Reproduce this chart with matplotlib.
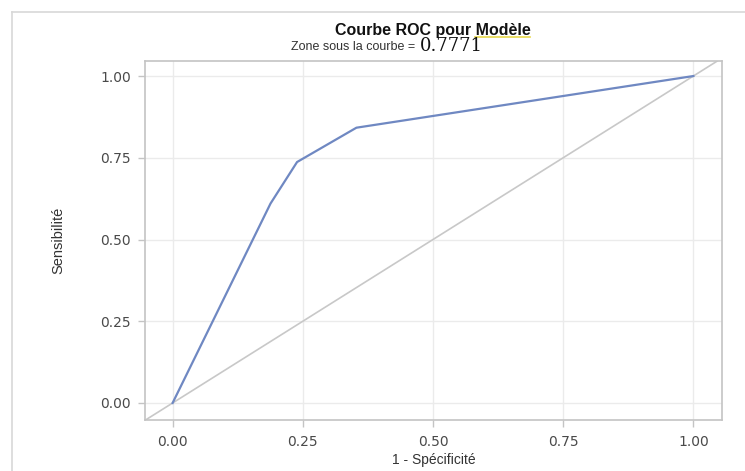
import matplotlib
matplotlib.use("Agg")
import matplotlib.pyplot as plt
from matplotlib.lines import Line2D

plt.rcParams["font.family"] = ["Liberation Sans", "DejaVu Sans"]

# Data
fpr = [0.0, 0.188, 0.239, 0.353, 1.0]
tpr = [0.0, 0.610, 0.737, 0.842, 1.0]
ticks = [0.0, 0.25, 0.50, 0.75, 1.00]
tick_labels = ["0.00", "0.25", "0.50", "0.75", "1.00"]
title = "Courbe ROC pour Modèle"
subtitle = "Zone sous la courbe"
auc_text = "0.7771"

fig = plt.figure(figsize=(7.45, 4.71), dpi=100)
ax = fig.add_axes([145/745, 1-420/471, (722-145)/745, (420-61)/471])

ax.set_xlim(-0.053, 1.055)
ax.set_ylim(-0.052, 1.046)
ax.set_xticks(ticks)
ax.set_xticklabels(tick_labels, family="DejaVu Sans")
ax.set_yticks(ticks)
ax.set_yticklabels(tick_labels, family="DejaVu Sans")
ax.grid(True, color="#ebebeb", linewidth=1)
ax.set_axisbelow(True)
for s in ax.spines.values():
    s.set_color("#c4c4c4")
    s.set_linewidth(1.2)
ax.tick_params(colors="#c4c4c4", labelcolor="#4a4a4a", labelsize=10, length=5, width=1)
ax.tick_params(axis="y", pad=5)
ax.tick_params(axis="x", pad=6)

ax.axline((0, 0), (1, 1), color="#c8c8c8", linewidth=1.2, zorder=2)
ax.plot(fpr, tpr, color="#6f88c2", linewidth=1.6, zorder=3)

ax.set_xlabel("1 - Spécificité", fontsize=10, color="#333333", labelpad=3)
ax.set_ylabel("Sensibilité", fontsize=10.5, color="#333333", labelpad=25)

fig.text(433/745, 1-30/471, title, ha="center", va="center", fontsize=11.5,
         fontweight="bold", color="#111111")
fig.text(419/745, 1-47/471, subtitle + " = ", ha="right", va="center",
         fontsize=9, color="#333333")
fig.text(420/745, 1-46/471, auc_text, ha="left", va="center",
         fontsize=13, color="#111111", family="DejaVu Serif")

# outer frame lines (top and left)
fig.add_artist(Line2D([12/745, 1], [1-12/471, 1-12/471], color="#d8d8d8", linewidth=1.2))
fig.add_artist(Line2D([12/745, 12/745], [0, 1-12/471], color="#d8d8d8", linewidth=1.2))
# yellow underline below "Modèle"
fig.add_artist(Line2D([475/745, 530/745], [1-37/471, 1-37/471], color="#e8d84a", linewidth=1.2))

fig.savefig("out.png", dpi=100)
